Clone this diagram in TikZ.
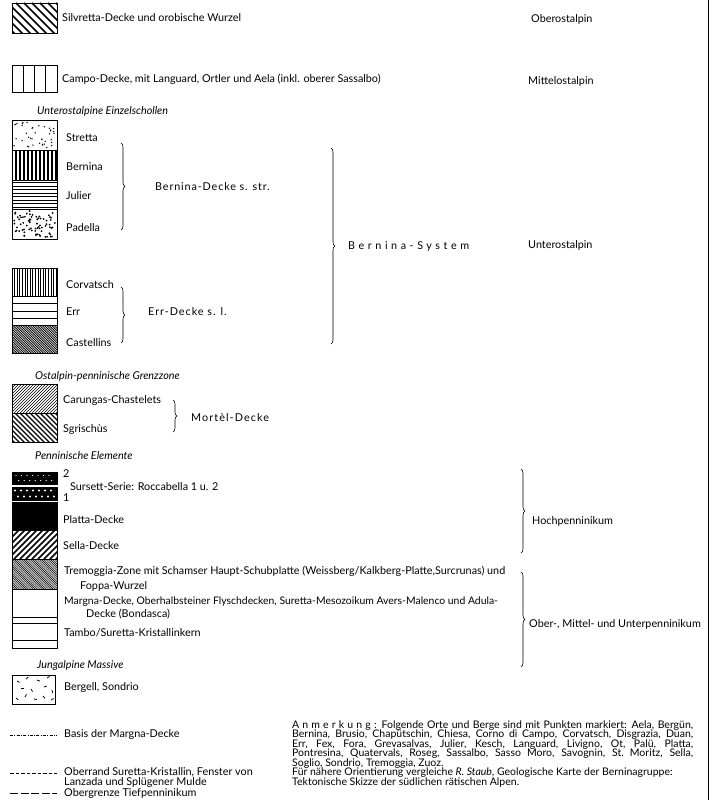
\documentclass[tikz,border=0pt]{standalone}
\usepackage{fontspec}
\setmainfont{Lato}
\usetikzlibrary{decorations.pathreplacing}

\newcommand{\legfont}{\fontsize{10.8}{12}\selectfont}
\newcommand{\notefont}{\fontsize{10.5}{9.5}\selectfont}
\newcommand{\spaced}[1]{\addfontfeatures{LetterSpace=#1}}

% hatching inside a legend box: top, bottom, spacing, line width
\newcommand{\backhatch}[4]{%
  \begin{scope}
    \clip (12,#1) rectangle (57,#2);
    \pgfmathsetmacro\hnext{-40+#3}
    \foreach \x in {-40,\hnext,...,60} \draw[line width=#4] (\x,#1) -- ++(40,40);
  \end{scope}}
\newcommand{\forehatch}[4]{%
  \begin{scope}
    \clip (12,#1) rectangle (57,#2);
    \pgfmathsetmacro\hnext{-40+#3}
    \foreach \x in {-40,\hnext,...,60} \draw[line width=#4] (\x,#2) -- ++(40,-40);
  \end{scope}}
\newcommand{\verthatch}[4]{%
  \begin{scope}
    \clip (12,#1) rectangle (57,#2);
    \pgfmathsetmacro\hnext{12+#3}
    \foreach \x in {12,\hnext,...,58} \draw[line width=#4] (\x,#1) -- (\x,#2);
  \end{scope}}

\tikzset{
  legbox/.style={draw, line width=0.8pt},
  lbl/.style={anchor=west, inner sep=0pt, text height=6.5pt, text depth=1.8pt, font=\legfont},
  grp/.style={lbl, font=\legfont\itshape},
  note/.style={anchor=west, inner sep=0pt, text height=6.3pt, text depth=1.8pt, font=\notefont},
  legbrace/.style={decorate, decoration={brace, amplitude=4pt}, line width=0.6pt},
}

\begin{document}
\begin{tikzpicture}[x=1pt, y=-1pt]
\useasboundingbox (0,0) rectangle (712,800);
\draw[line width=0.8pt] (708,0) -- (708,800);

% Ober- und Mittelostalpin
\backhatch{3}{33}{8}{1.6pt}
\draw[legbox] (12,3) rectangle (57,33);
\node[lbl] (silv) at (62,19) {Silvretta-Decke und orobische Wurzel};
\node[lbl] (oberost) at (531,20) {Oberostalpin};
\draw[legbox] (12,65) rectangle (57,92);
\foreach \x in {23.25,34.5,45.75} \draw[line width=0.6pt] (\x,65) -- (\x,92);
\node[lbl] (campo) at (62,80) {Campo-Decke, mit Languard, Ortler und Aela (inkl. oberer Sassalbo)};
\node[lbl] (mittelost) at (528,82) {Mittelostalpin};

% Unterostalpin
\node[grp] (einzel) at (37,112) {Unterostalpine Einzelschollen};
\pgfmathsetseed{4711}
\foreach \i in {1,...,40} \fill ({14+41*rnd},{122+26*rnd}) circle (0.75);
\verthatch{150}{180}{4}{2pt}
\foreach \y in {182.5,186,...,208} \draw[line width=0.9pt] (12,\y) -- (57,\y);
\foreach \i in {1,...,75} \fill ({14+41*rnd},{211+26*rnd}) circle (1);
\draw[legbox] (12,120) rectangle (57,239);
\foreach \y in {150,180,209} \draw[legbox] (12,\y) -- (57,\y);
\node[lbl] (stretta) at (66,139) {Stretta};
\node[lbl] (bernina) at (66,168) {Bernina};
\node[lbl] (julier) at (66,197) {Julier};
\node[lbl] (padella) at (66,229) {Padella};
\coordinate (bd1) at (121,143);
\coordinate (bd2) at (121,230);
\draw[legbrace] (bd1) -- (bd2);
\node[lbl, font=\legfont\spaced{8}] (bdecke) at (155,188) {Bernina-Decke s. str.};

\verthatch{268}{296}{2.6}{0.7pt}
\foreach \y in {303,311,318} \draw[line width=0.7pt] (12,\y) -- (57,\y);
\backhatch{325}{353}{2.4}{0.8pt}
\draw[legbox] (12,268) rectangle (57,353);
\foreach \y in {296,325} \draw[legbox] (12,\y) -- (57,\y);
\node[lbl] (corvatsch) at (66,286) {Corvatsch};
\node[lbl] (err) at (66,313) {Err};
\node[lbl] (castellins) at (66,344) {Castellins};
\coordinate (ed1) at (121,287);
\coordinate (ed2) at (121,343);
\draw[legbrace] (ed1) -- (ed2);
\node[lbl, font=\legfont\spaced{9}] (edecke) at (148,313) {Err-Decke s. l.};

\coordinate (bs1) at (331,148);
\coordinate (bs2) at (331,344);
\draw[legbrace] (bs1) -- (bs2);
\node[lbl, font=\legfont\spaced{33}] (bsystem) at (348,247) {Bernina-System};
\node[lbl] (unterost) at (528,246) {Unterostalpin};

% Grenzzone
\node[grp] (grenz) at (35,377) {Ostalpin-penninische Grenzzone};
\forehatch{384}{413}{3}{0.5pt}
\backhatch{413}{442}{5}{1.2pt}
\draw[legbox] (12,384) rectangle (57,442);
\draw[legbox] (12,413) -- (57,413);
\node[lbl] (carungas) at (63,401) {Carungas-Chastelets};
\node[lbl] (sgrischus) at (63,430) {Sgrischùs};
\coordinate (md1) at (173,400);
\coordinate (md2) at (173,432);
\draw[legbrace] (md1) -- (md2);
\node[lbl, font=\legfont\spaced{10}] (mortel) at (191,419) {Mortèl-Decke};

% Penninikum
\node[grp] (pennin) at (35,457) {Penninische Elemente};
\fill (12,472) rectangle (57,484);
\foreach \x in {16,21.5,...,54} {
  \fill[white] (\x,475.5) circle (0.7);
  \fill[white] ({\x+2.7},480.5) circle (0.7);
}
\fill (12,487) rectangle (57,500);
\foreach \x in {15,21,...,54} {
  \fill[white] (\x,490.5) circle (1.1);
  \fill[white] ({\x+3},496.5) circle (1.1);
}
\draw[legbox] (12,472) rectangle (57,484);
\draw[legbox] (12,487) rectangle (57,500);
\fill (12,502) rectangle (57,530);
\forehatch{530}{559}{6}{1.6pt}
\backhatch{559}{589}{1.8}{0.45pt}
\draw[line width=0.6pt] (12,623) -- (57,623) (12,640) -- (57,640);
\draw[legbox] (12,502) rectangle (57,648);
\foreach \y in {530,559,589,617} \draw[legbox] (12,\y) -- (57,\y);
\node[lbl] (two) at (63,475) {2};
\node[lbl] (sursett) at (70,488) {Sursett-Serie: Roccabella 1 u. 2};
\node[lbl] (one) at (63,499) {1};
\node[lbl] (platta) at (63,521) {Platta-Decke};
\node[lbl] (sella) at (63,547) {Sella-Decke};
\node[lbl] (tremoggia) at (64,572) {Tremoggia-Zone mit Schamser Haupt-Schubplatte (Weissberg/Kalkberg-Platte,Surcrunas) und};
\node[lbl] (foppa) at (80,587) {Foppa-Wurzel};
\node[lbl, font=\fontsize{10.4}{12}\selectfont] (margna) at (64,602) {Margna-Decke, Oberhalbsteiner Flyschdecken, Suretta-Mesozoikum Avers-Malenco und Adula-};
\node[lbl] (bondasca) at (86,615) {Decke (Bondasca)};
\node[lbl] (tambo) at (64,634) {Tambo/Suretta-Kristallinkern};
\coordinate (hp1) at (521,469);
\coordinate (hp2) at (521,553);
\draw[legbrace] (hp1) -- (hp2);
\node[lbl] (hochpen) at (532,522) {Hochpenninikum};
\coordinate (op1) at (521,572);
\coordinate (op2) at (521,667);
\draw[legbrace] (op1) -- (op2);
\node[lbl] (oberpen) at (529,625) {Ober-, Mittel- und Unterpenninikum};

% Massive
\node[grp] (jung) at (37,666) {Jungalpine Massive};
\foreach \x/\y/\a in {17/681/30,26/679/-40,37/680/20,47/678/-30,21/688/0,31/689/60,44/687/-20,52/690/80,
                      16/698/40,25/697/-60,34/699/10,43/696/50,51/700/-30}
  \draw[line width=0.8pt] (\x,\y) -- ++(\a:3);
\draw[legbox] (12,675) rectangle (55,704);
\node[lbl] (bergell) at (64,688) {Bergell, Sondrio};

% Linien
\coordinate (l1a) at (10,735);
\coordinate (l1b) at (57,735);
\draw[line width=0.7pt, dash pattern=on 3pt off 1.3pt on 1pt off 1.3pt] (l1a) -- (l1b);
\node[lbl] (basis) at (64,735) {Basis der Margna-Decke};
\coordinate (l2a) at (10,773);
\coordinate (l2b) at (57,773);
\draw[line width=0.7pt, dash pattern=on 3.5pt off 2pt] (l2a) -- (l2b);
\node[lbl] (oberrand) at (64,773.5) {Oberrand Suretta-Kristallin, Fenster von};
\node[lbl] (lanzada) at (64,783) {Lanzada und Splügener Mulde};
\coordinate (l3a) at (10,793);
\coordinate (l3b) at (57,793);
\draw[line width=0.9pt, dash pattern=on 8pt off 2.5pt] (l3a) -- (l3b);
\node[lbl] (obergrenze) at (64,794) {Obergrenze Tiefpenninikum};

% Anmerkung
\node[note] (n1) at (292,726) {\makebox[401pt][s]{{\spaced{30}Anmerkung:} Folgende Orte und Berge sind mit Punkten markiert: Aela, Bergün,}};
\node[note] (n2) at (292,735.5) {\makebox[401pt][s]{Bernina, Brusio, Chapütschin, Chiesa, Corno di Campo, Corvatsch, Disgrazia, Duan,}};
\node[note] (n3) at (292,745) {\makebox[401pt][s]{Err, Fex, Fora, Grevasalvas, Julier, Kesch, Languard, Livigno, Ot, Palü, Platta,}};
\node[note] (n4) at (292,754.5) {\makebox[401pt][s]{Pontresina, Quatervals, Roseg, Sassalbo, Sasso Moro, Savognin, St.\ Moritz, Sella,}};
\node[note] (n5) at (292,764) {Soglio, Sondrio, Tremoggia, Zuoz.};
\node[note] (n6) at (292,773.5) {Für nähere Orientierung vergleiche \textit{R.~Staub}, Geologische Karte der Berninagruppe:};
\node[note] (n7) at (292,783) {Tektonische Skizze der südlichen rätischen Alpen.};
\end{tikzpicture}
\end{document}
